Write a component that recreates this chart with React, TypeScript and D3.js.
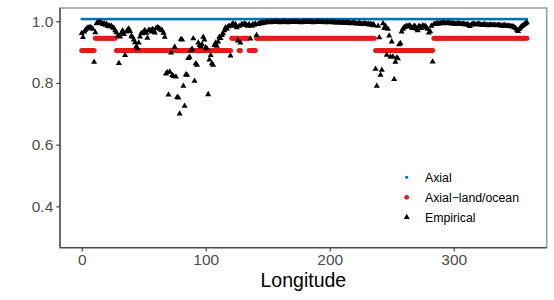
import React, { useRef, useEffect } from 'react';
import * as d3 from 'd3';

// longitude grid, one value per degree
const longitudes = d3.range(0, 360);

// Axial model: constant over all longitudes
const axialSegments = [{ from: 0, to: 359, value: 1.007 }];

// Axial-land/ocean model: two levels depending on land/ocean
const landOceanSegments = [
    { from: 0, to: 10, value: 0.905 },
    { from: 11, to: 27, value: 0.945 },
    { from: 28, to: 120, value: 0.905 },
    { from: 121, to: 126, value: 0.945 },
    { from: 127, to: 128, value: 0.905 },
    { from: 129, to: 134, value: 0.945 },
    { from: 135, to: 140, value: 0.905 },
    { from: 141, to: 236, value: 0.945 },
    { from: 237, to: 283, value: 0.905 },
    { from: 284, to: 359, value: 0.945 },
];

// Empirical values, lon 0..359
const empirical = [
    0.961, 0.948, 0.966, 0.972, 0.976, 0.979, 0.980, 0.980, 0.978, 0.975,
    0.868, 0.964, 0.993, 0.996, 0.997, 0.995, 0.994, 0.990, 0.993, 0.988,
    0.991, 0.984, 0.986, 0.983, 0.985, 0.980, 0.977, 0.970, 0.964, 0.952,
    0.864, 0.950, 0.962, 0.970, 0.958, 0.890, 0.966, 0.972, 0.976, 0.968,
    0.952, 0.949, 0.940, 0.931, 0.918, 0.912, 0.930, 0.950, 0.961, 0.960,
    0.966, 0.971, 0.962, 0.946, 0.971, 0.972, 0.966, 0.974, 0.972, 0.963,
    0.977, 0.980, 0.978, 0.975, 0.972, 0.970, 0.962, 0.949, 0.830, 0.835,
    0.762, 0.836, 0.898, 0.825, 0.822, 0.917, 0.820, 0.754, 0.752, 0.700,
    0.942, 0.940, 0.790, 0.725, 0.827, 0.826, 0.880, 0.884, 0.905, 0.910,
    0.944, 0.806, 0.863, 0.858, 0.930, 0.922, 0.918, 0.925, 0.949, 0.940,
    0.915, 0.912, 0.763, 0.875, 0.890, 0.863, 0.858, 0.922, 0.930, 0.920,
    0.934, 0.949, 0.945, 0.955, 0.960, 0.970, 0.980, 0.975, 0.982, 0.985,
    0.888, 0.988, 0.993, 0.985, 0.990, 0.980, 0.937, 0.985, 0.930, 0.990,
    0.988, 0.992, 0.990, 0.988, 0.985, 0.990, 0.943, 0.985, 0.990, 0.988,
    0.992, 0.955, 0.990, 0.992, 0.995, 0.993, 0.996, 0.994, 0.996, 0.997,
    0.998, 0.997, 0.996, 0.998, 0.997, 0.998, 0.999, 0.998, 0.997, 0.998,
    0.996, 0.997, 0.998, 0.999, 0.998, 0.997, 0.996, 0.997, 0.998, 0.998,
    0.997, 0.998, 0.999, 0.998, 0.997, 0.998, 0.997, 0.996, 0.997, 0.998,
    0.998, 0.999, 0.998, 0.997, 0.998, 0.998, 0.997, 0.996, 0.997, 0.998,
    0.999, 0.998, 0.997, 0.998, 0.998, 0.997, 0.996, 0.997, 0.998, 0.997,
    0.996, 0.997, 0.998, 0.997, 0.996, 0.995, 0.996, 0.997, 0.996, 0.995,
    0.996, 0.995, 0.994, 0.995, 0.996, 0.995, 0.994, 0.993, 0.994, 0.995,
    0.994, 0.993, 0.992, 0.993, 0.994, 0.992, 0.990, 0.993, 0.991, 0.992,
    0.990, 0.992, 0.989, 0.991, 0.988, 0.990, 0.986, 0.845, 0.790, 0.985,
    0.947, 0.826, 0.842, 0.993, 0.977, 0.985, 0.891, 0.975, 0.953, 0.885,
    0.934, 0.885, 0.812, 0.868, 0.882, 0.879, 0.925, 0.929, 0.966, 0.975,
    0.980, 0.982, 0.985, 0.983, 0.986, 0.984, 0.980, 0.977, 0.985, 0.983,
    0.975, 0.970, 0.985, 0.982, 0.977, 0.986, 0.984, 0.985, 0.980, 0.975,
    0.963, 0.968, 0.985, 0.869, 0.990, 0.991, 0.992, 0.993, 0.992, 0.994,
    0.993, 0.994, 0.995, 0.994, 0.993, 0.994, 0.995, 0.994, 0.993, 0.992,
    0.993, 0.992, 0.991, 0.992, 0.993, 0.992, 0.991, 0.990, 0.991, 0.990,
    0.989, 0.990, 0.988, 0.984, 0.989, 0.990, 0.991, 0.990, 0.989, 0.990,
    0.991, 0.990, 0.989, 0.988, 0.989, 0.990, 0.989, 0.988, 0.986, 0.988,
    0.989, 0.988, 0.987, 0.988, 0.986, 0.987, 0.988, 0.987, 0.986, 0.985,
    0.986, 0.987, 0.985, 0.986, 0.984, 0.985, 0.983, 0.984, 0.982, 0.980,
    0.977, 0.972, 0.968, 0.975, 0.980, 0.984, 0.987, 0.990, 0.993, 0.996,
];

const xTicks = [0, 100, 200, 300];
const yTicks = [0.4, 0.6, 0.8, 1.0];
const legendLabels = ['Axial', 'Axial\u2212land/ocean', 'Empirical'];

const BLUE = '#0072B2';
const RED = '#E41A1C';

const stepValue = (segs, lon) => {
    const s = segs.find(d => lon >= d.from && lon <= d.to);
    return s ? s.value : null;
};

const App = () => {
    const svgRef = useRef();

    useEffect(() => {
        const svg = d3.select(svgRef.current);
        svg.selectAll("*").remove();
        const width = 554;
        const height = 300;
        const margin = { top: 8, right: 7.3, bottom: 52.3, left: 60 };
        const font = '"Liberation Sans", Arial, sans-serif';

        svg.attr("width", width).attr("height", height);

        const x = d3.scaleLinear()
            .domain([-17.5, 375])
            .range([margin.left, width - margin.right]);
        const y = d3.scaleLinear()
            .domain([0.266, 1.043])
            .range([height - margin.bottom, margin.top]);

        // panel border (top/right grey)
        svg.append("rect")
            .attr("x", margin.left)
            .attr("y", margin.top)
            .attr("width", width - margin.right - margin.left)
            .attr("height", height - margin.bottom - margin.top)
            .attr("fill", "white")
            .attr("stroke", "#9e9e9e")
            .attr("stroke-width", 1.6);

        const plot = svg.append("g");

        plot.append("g")
            .selectAll("circle")
            .data(longitudes.filter(l => stepValue(axialSegments, l) !== null))
            .join("circle")
            .attr("cx", d => x(d))
            .attr("cy", d => y(stepValue(axialSegments, d)))
            .attr("r", 1.3)
            .attr("fill", BLUE);

        plot.append("g")
            .selectAll("circle")
            .data(longitudes.filter(l => stepValue(landOceanSegments, l) !== null))
            .join("circle")
            .attr("cx", d => x(d))
            .attr("cy", d => y(stepValue(landOceanSegments, d)))
            .attr("r", 2.5)
            .attr("fill", RED);

        const tri = d3.symbol().type(d3.symbolTriangle).size(16);
        plot.append("g")
            .selectAll("path")
            .data(longitudes.map((l, i) => [l, empirical[i]]))
            .join("path")
            .attr("transform", d => `translate(${x(d[0])},${y(d[1])})`)
            .attr("d", tri)
            .attr("fill", "black");

        // axes
        const xAxis = svg.append("g")
            .attr("transform", `translate(0,${height - margin.bottom})`)
            .call(d3.axisBottom(x).tickValues(xTicks).tickSize(3.7).tickPadding(3).tickFormat(d3.format("d")));
        xAxis.selectAll(".tick line").attr("stroke", "#333").attr("stroke-width", 1.1);
        xAxis.selectAll("text")
            .attr("fill", "#4d4d4d")
            .style("font-family", font)
            .style("font-size", "15.5px");

        const yAxis = svg.append("g")
            .attr("transform", `translate(${margin.left},0)`)
            .call(d3.axisLeft(y).tickValues(yTicks).tickSize(3.7).tickPadding(3).tickFormat(d3.format(".1f")));
        yAxis.selectAll(".tick line").attr("stroke", "#333").attr("stroke-width", 1.1);
        yAxis.selectAll("text")
            .attr("fill", "#4d4d4d")
            .style("font-family", font)
            .style("font-size", "15.5px");
        xAxis.select(".domain")
            .attr("d", `M${margin.left},0H${width - margin.right}`)
            .attr("stroke", "#333").attr("stroke-width", 1.1);
        yAxis.select(".domain")
            .attr("d", `M0,${margin.top}V${height - margin.bottom}`)
            .attr("stroke", "#333").attr("stroke-width", 1.1);

        svg.append("text")
            .attr("x", (margin.left + width - margin.right) / 2)
            .attr("y", 287)
            .attr("text-anchor", "middle")
            .style("font-family", font)
            .style("font-size", "19.5px")
            .attr("fill", "black")
            .text("Longitude");

        // legend
        const legend = svg.append("g").attr("transform", "translate(406.7,177.3)");
        legendLabels.forEach((lab, i) => {
            const g = legend.append("g").attr("transform", `translate(0,${i * 20})`);
            if (i === 0) g.append("circle").attr("r", 1.6).attr("fill", BLUE);
            if (i === 1) g.append("circle").attr("r", 2.4).attr("fill", RED);
            if (i === 2) g.append("path").attr("d", tri).attr("fill", "black");
            g.append("text")
                .attr("x", 18.3)
                .attr("dy", "0.35em")
                .style("font-family", font)
                .style("font-size", "12.3px")
                .attr("fill", "black")
                .text(lab);
        });
    }, []);

    return <svg ref={svgRef} style={{ position: 'absolute', left: 0, top: 0 }}></svg>;
};

export default App;
